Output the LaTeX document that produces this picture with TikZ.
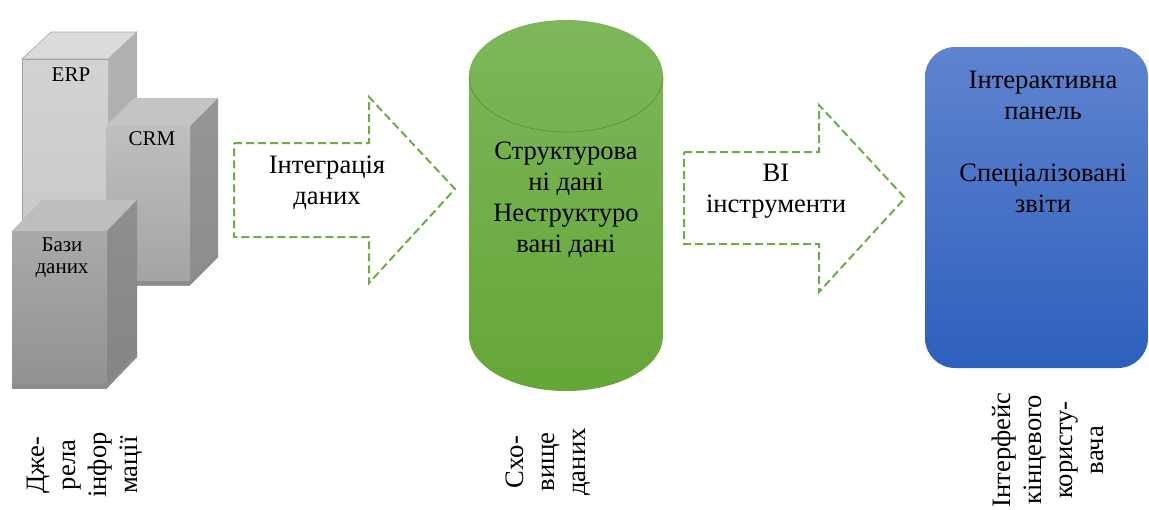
\documentclass[tikz,border=0pt]{standalone}
\usepackage{fontspec}
\setmainfont{Liberation Serif}
\definecolor{dashgreen}{RGB}{112,173,71}
\definecolor{cyltop}{RGB}{125,183,90}
\definecolor{cylbot}{RGB}{101,166,56}
\definecolor{paneltop}{RGB}{96,131,207}
\definecolor{panelbot}{RGB}{45,96,189}
\begin{document}
\begin{tikzpicture}[x=0.5pt,y=0.5pt,
  label/.style={align=center,inner sep=0pt,font=\fontsize{13.3}{15.5}\selectfont},
  small/.style={align=center,inner sep=0pt,font=\fontsize{10.5}{11}\selectfont},
  flow/.style={draw=dashgreen,line width=1pt,dash pattern=on 4pt off 2pt,fill=white}]
\useasboundingbox (0,0) rectangle (1149,-509);
\draw [gray!70,line width=0.3pt,fill=gray!28] (22,-59) -- (108,-59) -- (137,-32) -- (51,-32) -- cycle;
\fill [gray!62] (108,-59) -- (137,-32) -- (137,-273) -- (108,-300) -- cycle;
\shade [top color=gray!35,bottom color=gray!45] (22,-59) rectangle (108,-300);
\draw [gray!70,line width=0.3pt] (22,-300) -- (22,-59) -- (108,-59);
\fill [gray!46] (106,-126) -- (190,-126) -- (218,-98) -- (134,-98) -- cycle;
\shade [top color=gray!82,bottom color=gray!90] (190,-126) -- (218,-98) -- (218,-257) -- (190,-285) -- cycle;
\shade [top color=gray!50,bottom color=gray!72] (106,-126) rectangle (190,-285);
\fill [gray!110!black] (106,-285) -- (190,-285) -- (218,-257) -- (218,-253) -- (190,-281) -- (106,-281) -- cycle;
\fill [gray!51] (12,-231) -- (107,-231) -- (137,-200) -- (42,-200) -- cycle;
\shade [top color=gray!88,bottom color=gray!96] (107,-231) -- (137,-200) -- (137,-357) -- (107,-388) -- cycle;
\shade [top color=gray!67,bottom color=gray!86] (12,-231) rectangle (107,-388);
\fill [gray!110!black] (12,-388) -- (107,-388) -- (137,-357) -- (137,-353) -- (107,-384) -- (12,-384) -- cycle;
\node [small] (erp) at (71,-75) {ERP};
\node [small] (crm) at (152,-139) {CRM};
\node [small] (bases) at (62,-258) {Бази\\даних};
\draw [flow] (234,-143) -- (369,-143) -- (369,-97) -- (455,-189) -- (369,-283) -- (369,-237) -- (234,-237) -- cycle;
\node [label] (integr) at (327,-183) {Інтеграція\\даних};
\shade [top color=cyltop,bottom color=cylbot] (469,-76) -- (469,-336) arc[start angle=180,end angle=360,x radius=97,y radius=55] -- (663,-76) arc[start angle=0,end angle=180,x radius=97,y radius=56] -- cycle;
\draw [cylbot!85!black,line width=0.3pt] (469,-76) arc[start angle=180,end angle=360,x radius=97,y radius=56];
\node [label] (store) at (566,-200) {Структурова\\ні дані\\Неструктуро\\вані дані};
\draw [flow] (684,-152) -- (819,-152) -- (819,-105) -- (905,-198) -- (819,-292) -- (819,-244) -- (684,-244) -- cycle;
\node [label] (bi) at (776,-191) {BI\\інструменти};
\shade [top color=paneltop,bottom color=panelbot,rounded corners=15pt] (925,-47) rectangle (1148,-368);
\node [label] (panel) at (1043,-142) {Інтерактивна\\панель\\[15.5pt]Спеціалізовані\\звіти};
\node [label,rotate=90] (sources) at (85,-465) {Дже-\\рела\\інфор\\мації};
\node [label,rotate=90] (warehouse) at (548,-462) {Схо-\\вище\\даних};
\node [label,rotate=90] (interface) at (1048,-450) {Інтерфейс\\кінцевого\\користу-\\вача};
\end{tikzpicture}
\end{document}
